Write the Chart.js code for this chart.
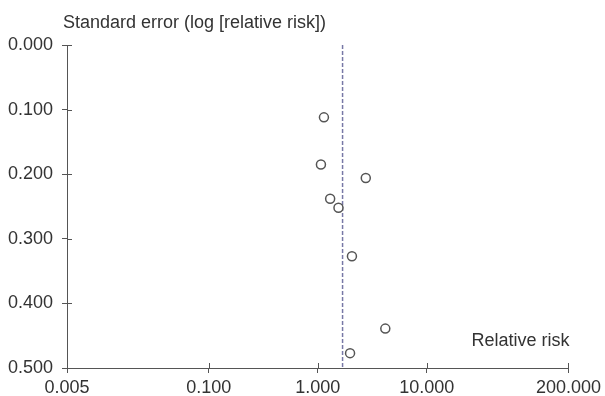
<!DOCTYPE html>
<html>
<head>
<meta charset="utf-8">
<script src="https://cdn.jsdelivr.net/npm/chart.js@4/dist/chart.umd.min.js"></script>
<style>
  html, body { margin: 0; padding: 0; background: #fff; }
  #wrap { width: 605px; height: 396px; }
</style>
</head>
<body>
<div id="wrap"><canvas id="funnel"></canvas></div>
<script>
// relative risk and standard error for each study
const relRisk = [1.14, 1.07, 2.76, 1.30, 1.55, 2.06, 4.17, 1.98];
const stdErr = [0.112, 0.185, 0.206, 0.238, 0.252, 0.327, 0.439, 0.477];
const pooledRisk = 1.69;
const xTicks = [0.005, 0.1, 1, 10, 200];
const yTicks = [0, 0.1, 0.2, 0.3, 0.4, 0.5];

const textColor = "#333";
const axisColor = "#555";
const fontFamily = "'Liberation Sans', Arial, sans-serif";

// ticks in the original cross the axis, Chart.js only draws the outer half
const innerTicks = {
  id: "innerTicks",
  afterDraw(chart) {
    const { ctx, chartArea, scales } = chart;
    ctx.save();
    ctx.strokeStyle = axisColor;
    ctx.lineWidth = 1;
    ctx.beginPath();
    xTicks.forEach((v) => {
      const px = Math.round(scales.x.getPixelForValue(v)) + 0.5;
      ctx.moveTo(px, chartArea.bottom);
      ctx.lineTo(px, chartArea.bottom - 5);
    });
    yTicks.forEach((v) => {
      const py = Math.round(scales.y.getPixelForValue(v)) + 0.5;
      ctx.moveTo(chartArea.left, py);
      ctx.lineTo(chartArea.left + 5, py);
    });
    ctx.stroke();

    ctx.fillStyle = textColor;
    ctx.font = "18px " + fontFamily;
    ctx.textBaseline = "middle";
    ctx.textAlign = "left";
    ctx.fillText("Standard error (log [relative risk])", chartArea.left - 4, 23);
    ctx.textAlign = "right";
    ctx.fillText("Relative risk", chartArea.right + 1, chartArea.bottom - 27);
    ctx.restore();
  },
};

new Chart(document.getElementById("funnel"), {
  type: "scatter",
  data: {
    datasets: [
      {
        label: "Studies",
        data: relRisk.map((x, i) => ({ x, y: stdErr[i] })),
        pointRadius: 4.5,
        pointBorderWidth: 1.5,
        pointBorderColor: "#555",
        pointBackgroundColor: "#fff",
      },
      {
        label: "Pooled",
        data: [{ x: pooledRisk, y: 0 }, { x: pooledRisk, y: 0.5 }],
        showLine: true,
        borderColor: "#7778a6",
        borderWidth: 1.5,
        borderDash: [4, 2],
        pointRadius: 0,
      },
    ],
  },
  options: {
    responsive: true,
    maintainAspectRatio: false,
    animation: false,
    layout: { padding: { top: 45, right: 36, left: 0, bottom: 0 } },
    plugins: { legend: { display: false }, tooltip: { enabled: false } },
    scales: {
      x: {
        type: "logarithmic",
        min: 0.005,
        max: 200,
        afterBuildTicks: (scale) => {
          scale.ticks = xTicks.map((value) => ({ value }));
        },
        afterFit: (scale) => {
          scale.height = 28;
        },
        ticks: {
          color: textColor,
          font: { family: fontFamily, size: 18 },
          padding: 4,
          maxRotation: 0,
          autoSkip: false,
          callback: (v) => Number(v).toFixed(3),
        },
        grid: { drawOnChartArea: false, color: axisColor, tickLength: 5 },
        border: { color: axisColor, width: 1 },
      },
      y: {
        reverse: true,
        min: 0,
        max: 0.5,
        afterBuildTicks: (scale) => {
          scale.ticks = yTicks.map((value) => ({ value }));
        },
        afterFit: (scale) => {
          scale.width = 67;
        },
        ticks: {
          color: textColor,
          font: { family: fontFamily, size: 18 },
          padding: 9,
          callback: (v) => Number(v).toFixed(3),
        },
        grid: { drawOnChartArea: false, color: axisColor, tickLength: 5 },
        border: { color: axisColor, width: 1 },
      },
    },
  },
  plugins: [innerTicks],
});
</script>
</body>
</html>
